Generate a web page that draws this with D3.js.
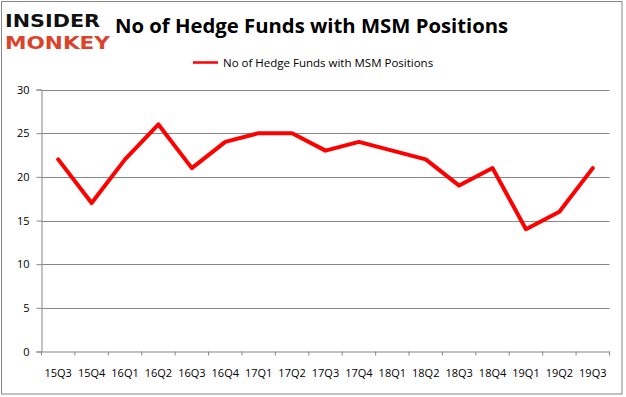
<!DOCTYPE html>
<html>
<head>
<meta charset="utf-8">
<script src="https://cdn.jsdelivr.net/npm/d3@7"></script>
<style>
  body { margin: 0; background: #fff; }
  svg { display: block; font-family: "Open Sans", "Liberation Sans", sans-serif; }
</style>
</head>
<body>
<svg id="chart"></svg>
<script>
// data
const quarters = ["15Q3","15Q4","16Q1","16Q2","16Q3","16Q4","17Q1","17Q2","17Q3","17Q4","18Q1","18Q2","18Q3","18Q4","19Q1","19Q2","19Q3"];
const hedgeFunds = [22,17,22,26,21,24,25,25,23,24,23,22,19,21,14,16,21];
const yTicks = [0,5,10,15,20,25,30];
const seriesName = "No of Hedge Funds with MSM Positions";
const titleText = "No of Hedge Funds with MSM Positions";

const width = 626, height = 397;
const plot = { left: 41.5, right: 609.5, top: 89.5, bottom: 351.5 };

const svg = d3.select("#chart")
  .attr("width", width)
  .attr("height", height);

// outer frame
svg.append("rect")
  .attr("x", 1.5).attr("y", 1.5)
  .attr("width", 620.5).attr("height", 392.5)
  .attr("fill", "#fff")
  .attr("stroke", "#868686")
  .attr("stroke-width", 1);

// logo
const logo = svg.append("g").style("font-family", "'DejaVu Sans', sans-serif").style("font-weight", "bold");
logo.append("text")
  .attr("x", 5).attr("y", 27)
  .attr("textLength", 95).attr("lengthAdjust", "spacingAndGlyphs")
  .style("font-size", "18.5px").attr("fill", "#111")
  .text("INSIDER");
logo.append("text")
  .attr("x", 5).attr("y", 49)
  .attr("textLength", 105).attr("lengthAdjust", "spacingAndGlyphs")
  .style("font-size", "18.5px").attr("fill", "#d9442b")
  .text("MONKEY");

// title
svg.append("text")
  .attr("x", 115).attr("y", 33)
  .style("font-size", "20.3px").style("font-weight", "bold")
  .attr("fill", "#000")
  .text(titleText);

// legend
svg.append("line")
  .attr("x1", 193).attr("x2", 218)
  .attr("y1", 62.5).attr("y2", 62.5)
  .attr("stroke", "#ff0000").attr("stroke-width", 2.5);
svg.append("text")
  .attr("x", 223).attr("y", 66.5)
  .style("font-size", "11.5px").attr("fill", "#000")
  .text(seriesName);

// scales
const x = d3.scaleBand().domain(quarters).range([plot.left, plot.right]);
const y = d3.scaleLinear().domain([0, 30]).range([plot.bottom, plot.top]);

// gridlines
svg.append("g")
  .selectAll("line")
  .data(yTicks.filter(d => d > 0))
  .join("line")
  .attr("x1", plot.left).attr("x2", plot.right)
  .attr("y1", d => Math.round(y(d)) + 0.5).attr("y2", d => Math.round(y(d)) + 0.5)
  .attr("stroke", "#868686").attr("stroke-width", 1);

// y axis
const yAxis = svg.append("g")
  .attr("transform", `translate(${plot.left},0)`)
  .call(d3.axisLeft(y).tickValues(yTicks).tickSize(5).tickPadding(7));
yAxis.select(".domain").attr("stroke", "#868686");
yAxis.selectAll(".tick line").attr("stroke", "#868686");
yAxis.selectAll("text").style("font-size", "11px").attr("fill", "#000").style("font-family", "'Open Sans', sans-serif");

// x axis
const xAxis = svg.append("g")
  .attr("transform", `translate(0,${plot.bottom})`)
  .call(d3.axisBottom(x).tickSize(0).tickPadding(18));
xAxis.select(".domain").attr("stroke", "#868686");
xAxis.selectAll("text").style("font-size", "11px").attr("fill", "#000").style("font-family", "'Open Sans', sans-serif");
// tick marks at band edges
xAxis.append("g")
  .selectAll("line")
  .data(quarters.concat(["__end"]))
  .join("line")
  .attr("x1", (d, i) => plot.left + i * x.step())
  .attr("x2", (d, i) => plot.left + i * x.step())
  .attr("y1", 0).attr("y2", 4)
  .attr("stroke", "#868686");

// series line
const line = d3.line()
  .x((d, i) => x(quarters[i]) + x.bandwidth() / 2)
  .y(d => y(d));

svg.append("path")
  .datum(hedgeFunds)
  .attr("d", line)
  .attr("fill", "none")
  .attr("stroke", "#ff0000")
  .attr("stroke-width", 4)
  .attr("stroke-linejoin", "round")
  .attr("stroke-linecap", "round");
</script>
</body>
</html>
